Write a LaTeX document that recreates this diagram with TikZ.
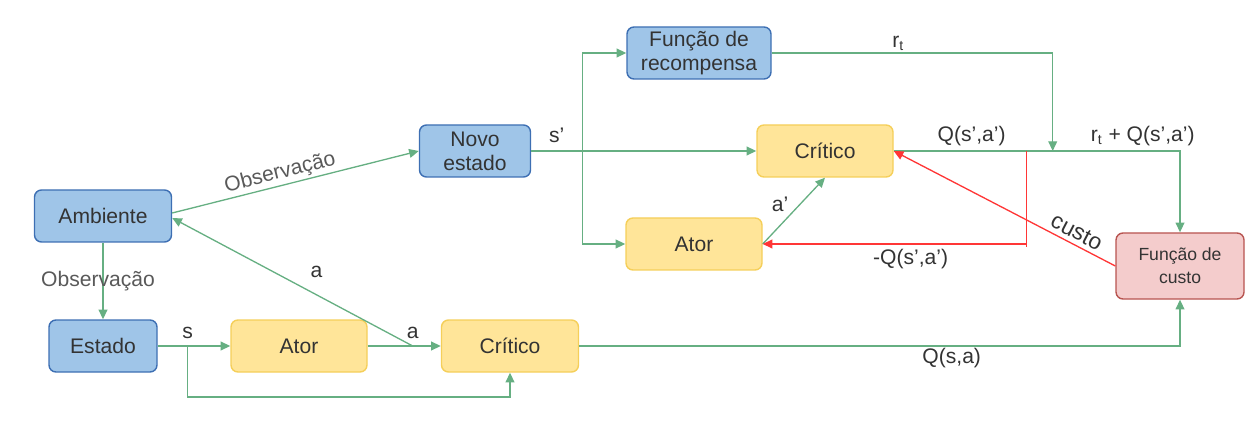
\documentclass[tikz,border=0pt]{standalone}
\usepackage{fontspec}
\setmainfont{Liberation Sans}
\usetikzlibrary{positioning,calc,arrows.meta}
\definecolor{azulfundo}{HTML}{9FC5E8}
\definecolor{azulborda}{HTML}{3D6FB3}
\definecolor{amarelofundo}{HTML}{FFE599}
\definecolor{amareloborda}{HTML}{F5CF5A}
\definecolor{rosafundo}{HTML}{F4CCCC}
\definecolor{rosaborda}{HTML}{B85450}
\definecolor{verde}{HTML}{66AF82}
\definecolor{vermelho}{HTML}{FF3636}
\definecolor{texto}{HTML}{333333}
\tikzset{
  caixa/.style={rectangle, rounded corners=0.14cm, draw, line width=0.8pt, inner sep=0pt, align=center, minimum height=1.04cm},
  azul/.style={caixa, draw=azulborda, fill=azulfundo},
  amarelo/.style={caixa, draw=amareloborda, fill=amarelofundo},
  rosa/.style={caixa, draw=rosaborda, fill=rosafundo},
  seta/.style={draw=verde, line width=0.75pt, -{Triangle[length=5.5pt,width=5pt]}},
  setav/.style={draw=vermelho, line width=0.75pt, -{Triangle[length=5.5pt,width=5pt]}},
  setavinv/.style={draw=vermelho, line width=0.75pt, {Triangle[length=5.5pt,width=5pt]}-},
  rotulo/.style={text=texto, inner sep=1pt}
}
\begin{document}
\begin{tikzpicture}[node distance=2cm, font=\fontsize{12}{13.6}\selectfont, text=texto]
\useasboundingbox (0,0) rectangle (25.04,-8.44);
% caixas
\node (amb) [azul, minimum width=2.74cm] at (2.06,-4.32) {Ambiente};
\node (est) [azul, minimum width=2.16cm, below of=amb, yshift=-0.6cm] {Estado};
\node (ator1) [amarelo, minimum width=2.72cm, right of=est, xshift=1.92cm] {Ator};
\node (crit1) [amarelo, minimum width=2.74cm, right of=ator1, xshift=2.22cm] {Crítico};
\node (novo) [azul, minimum width=2.22cm, above of=crit1, yshift=1.9cm, xshift=-0.7cm] {Novo\\estado};
\node (crit2) [amarelo, minimum width=2.72cm, right of=novo, xshift=5cm] {Crítico};
\node (ator2) [amarelo, minimum width=2.72cm, below of=crit2, xshift=-2.62cm, yshift=0.14cm] {Ator};
\node (recomp) [azul, minimum width=2.88cm, above of=crit2, xshift=-2.52cm, yshift=-0.04cm] {Função de\\recompensa};
\node (custo) [rosa, minimum width=2.56cm, minimum height=1.32cm, font=\fontsize{10}{13}\selectfont, right of=crit2, xshift=5.1cm, yshift=-2.3cm] {Função de\\custo};
% pontos de ramificacao
\coordinate (js) at ($(est.east)+(0.6,0)$);
\coordinate (ja) at ($(ator1.east)+(0.9,0)$);
\coordinate (jn) at ($(novo.east)+(1.02,0)$);
\coordinate (jr) at ($(crit2.east)+(3.18,0)$);
\coordinate (jq) at ($(crit2.east)+(2.66,0)$);
% ligacoes
\draw [seta] (amb) -- node[rotulo, text=black!65, xshift=-0.1cm] {Observação} (est);
\draw [seta] ([yshift=0.06cm]amb.east) -- node[rotulo, text=black!65, sloped, above, pos=0.45] {Observação} (novo.west);
\draw [seta] (est) -- (ator1);
\node [rotulo, above=0.1cm of js] {s};
\draw [seta] (js) -- ++(0,-1.02) -| (crit1.south);
\draw [seta] (ator1) -- (crit1);
\node [rotulo, above=0.1cm of ja] {a};
\draw [seta] (ja) -- node[rotulo, pos=0.4, above=0.3cm] {a} ([yshift=-0.04cm]amb.east);
\draw [seta] (crit1) -| node[rotulo, pos=0.31, below] {Q(s,a)} (custo.south);
\draw [seta] (novo) -- (crit2);
\node [rotulo, above=0.12cm of $(novo.east)!0.5!(jn)$] {s’};
\draw [seta] (jn) |- (recomp);
\draw [seta] (jn) |- (ator2);
\draw [seta] (recomp) -| node[rotulo, pos=0.225, above] {r\textsubscript{t}} (jr);
\draw [seta] (crit2) -| node[rotulo, pos=0.136, above=0.05cm] {Q(s’,a’)}
  node[rotulo, pos=0.435, above=0.05cm] {r\textsubscript{t} + Q(s’,a’)} (custo.north);
\draw [seta] (ator2.east) -- node[rotulo, above left, pos=0.45] {a’} (crit2.south);
\draw [setav] (jq) |- node[rotulo, pos=0.72, below=0.05cm] {-Q(s’,a’)} (ator2.east);
\draw [draw=vermelho, line width=0.75pt] (jq |- ator2.east) -- ++(0,-0.07);
\draw [setavinv] (crit2.east) -- node[rotulo, pos=0.8, sloped, above=0.05cm, font=\fontsize{13}{14}\selectfont] {custo} (custo.west);
\end{tikzpicture}
\end{document}
